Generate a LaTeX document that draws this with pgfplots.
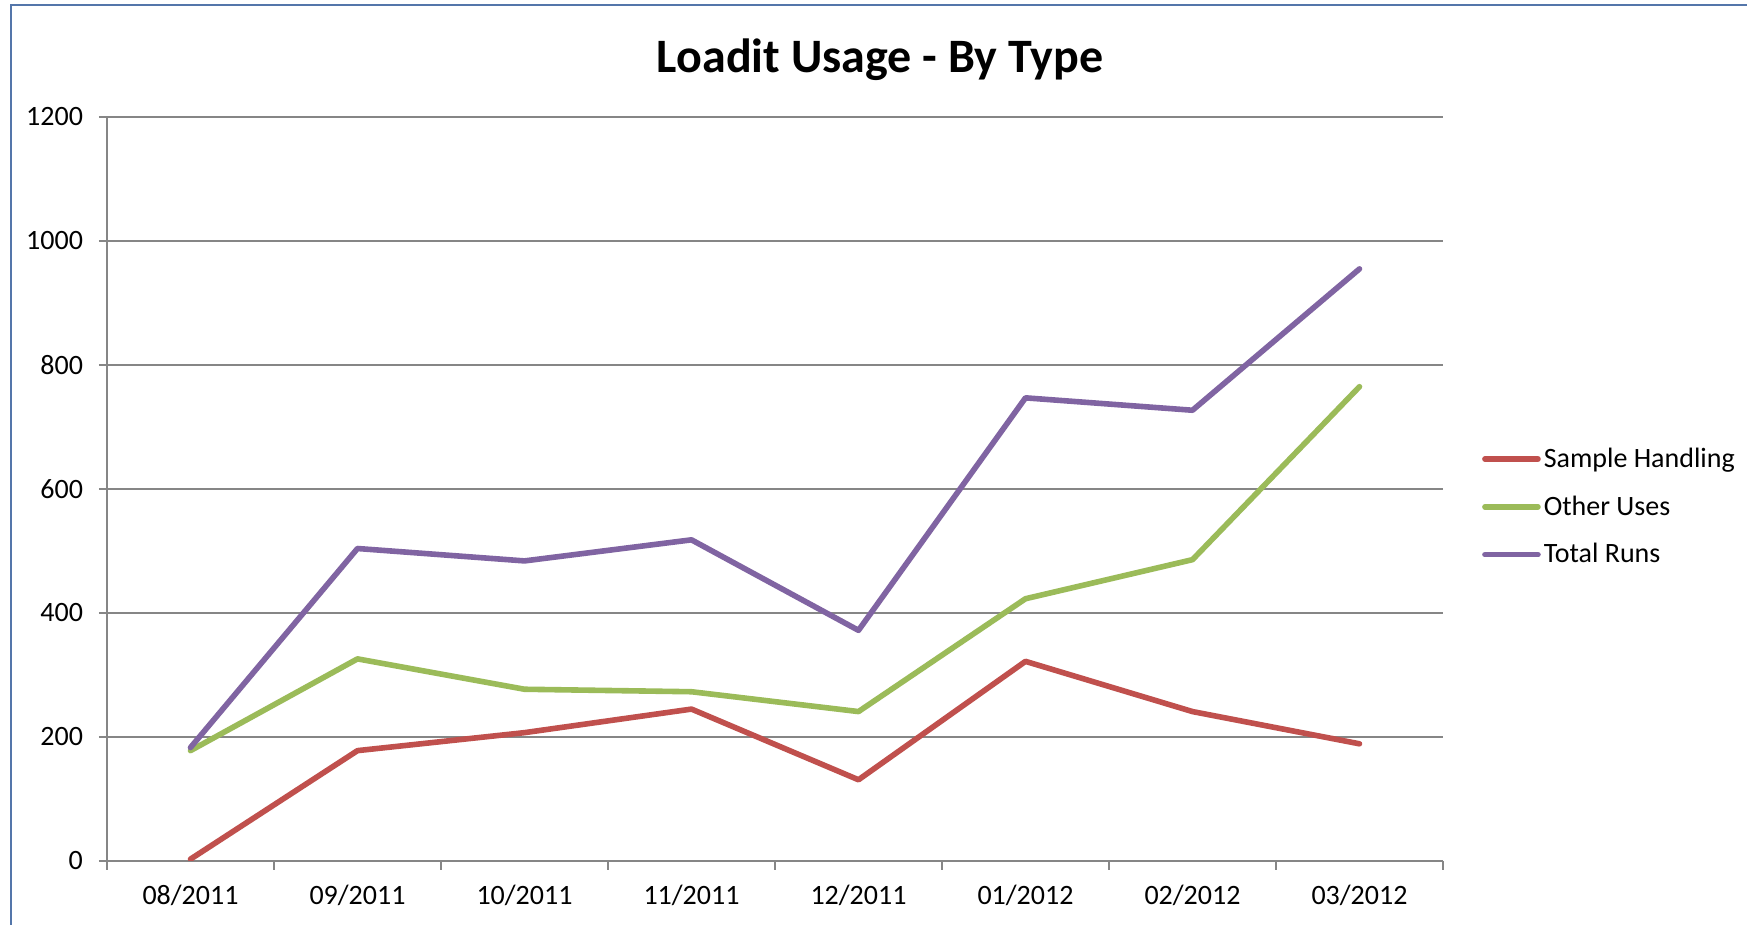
\documentclass[border=0pt]{standalone}
\usepackage{pgfplots}
\pgfplotsset{compat=1.18}
\usepackage{fontspec}
\setmainfont{Carlito}
\definecolor{shred}{RGB}{192,80,77}
\definecolor{shgreen}{RGB}{155,187,89}
\definecolor{shpurple}{RGB}{128,100,162}
\definecolor{gridgray}{RGB}{134,134,134}
\definecolor{framec}{RGB}{84,118,170}
\begin{document}
\begin{tikzpicture}
\path[use as bounding box] (0,0) rectangle (873.5pt,462.5pt);
\fill[white] (0,0) rectangle (873.5pt,462.5pt);
\draw[framec, line width=1pt] (5.5pt,0) -- (5.5pt,460pt) -- (873.5pt,460pt);
\node[font=\fontsize{24}{28}\selectfont\bfseries] at (440pt,432.8pt) {Loadit Usage - By Type};
\begin{axis}[
  at={(53.5pt,32pt)}, anchor=south west,
  scale only axis, width=668pt, height=372pt,
  xmin=-0.5, xmax=7.5, ymin=0, ymax=1200,
  axis lines=left, axis line style={-, gridgray, line width=0.75pt},
  xtick={0,...,7},
  xticklabels={08/2011,09/2011,10/2011,11/2011,12/2011,01/2012,02/2012,03/2012},
  minor xtick={-0.5,0.5,...,7.5},
  major x tick style={draw=none},
  minor tick length=4.5pt,
  ytick={0,200,...,1200},
  major tick length=4pt,
  tick align=outside,
  tick style={gridgray, line width=0.75pt},
  ymajorgrids, grid style={gridgray, line width=0.75pt},
  /pgf/number format/assume math mode=true,
  /pgf/number format/1000 sep={},
  tick label style={font=\fontsize{14}{17}\selectfont},
  xticklabel style={yshift=-4.5pt},
  yticklabel style={xshift=-4.5pt},
  legend style={at={(1.029,0.476)}, anchor=west, draw=none, fill=none,
    font=\fontsize{14}{17}\selectfont, row sep=9.7pt, inner sep=0pt,
    nodes={inner sep=1.5pt}},
  legend cell align=left,
  legend image code/.code={\draw[#1, line width=2.8pt, line cap=round] (0pt,0pt) -- (26.5pt,0pt);},
  every axis plot/.append style={line width=2.8pt, line cap=round, line join=round},
]
\addplot[shred] coordinates {(0,3) (1,178) (2,207) (3,245) (4,131) (5,322) (6,241) (7,189)};
\addlegendentry{Sample Handling}
\addplot[shgreen] coordinates {(0,178) (1,326) (2,277) (3,273) (4,241) (5,423) (6,486) (7,765)};
\addlegendentry{Other Uses}
\addplot[shpurple] coordinates {(0,183) (1,504) (2,484) (3,518) (4,372) (5,747) (6,727) (7,955)};
\addlegendentry{Total Runs}
\end{axis}
\end{tikzpicture}
\end{document}
